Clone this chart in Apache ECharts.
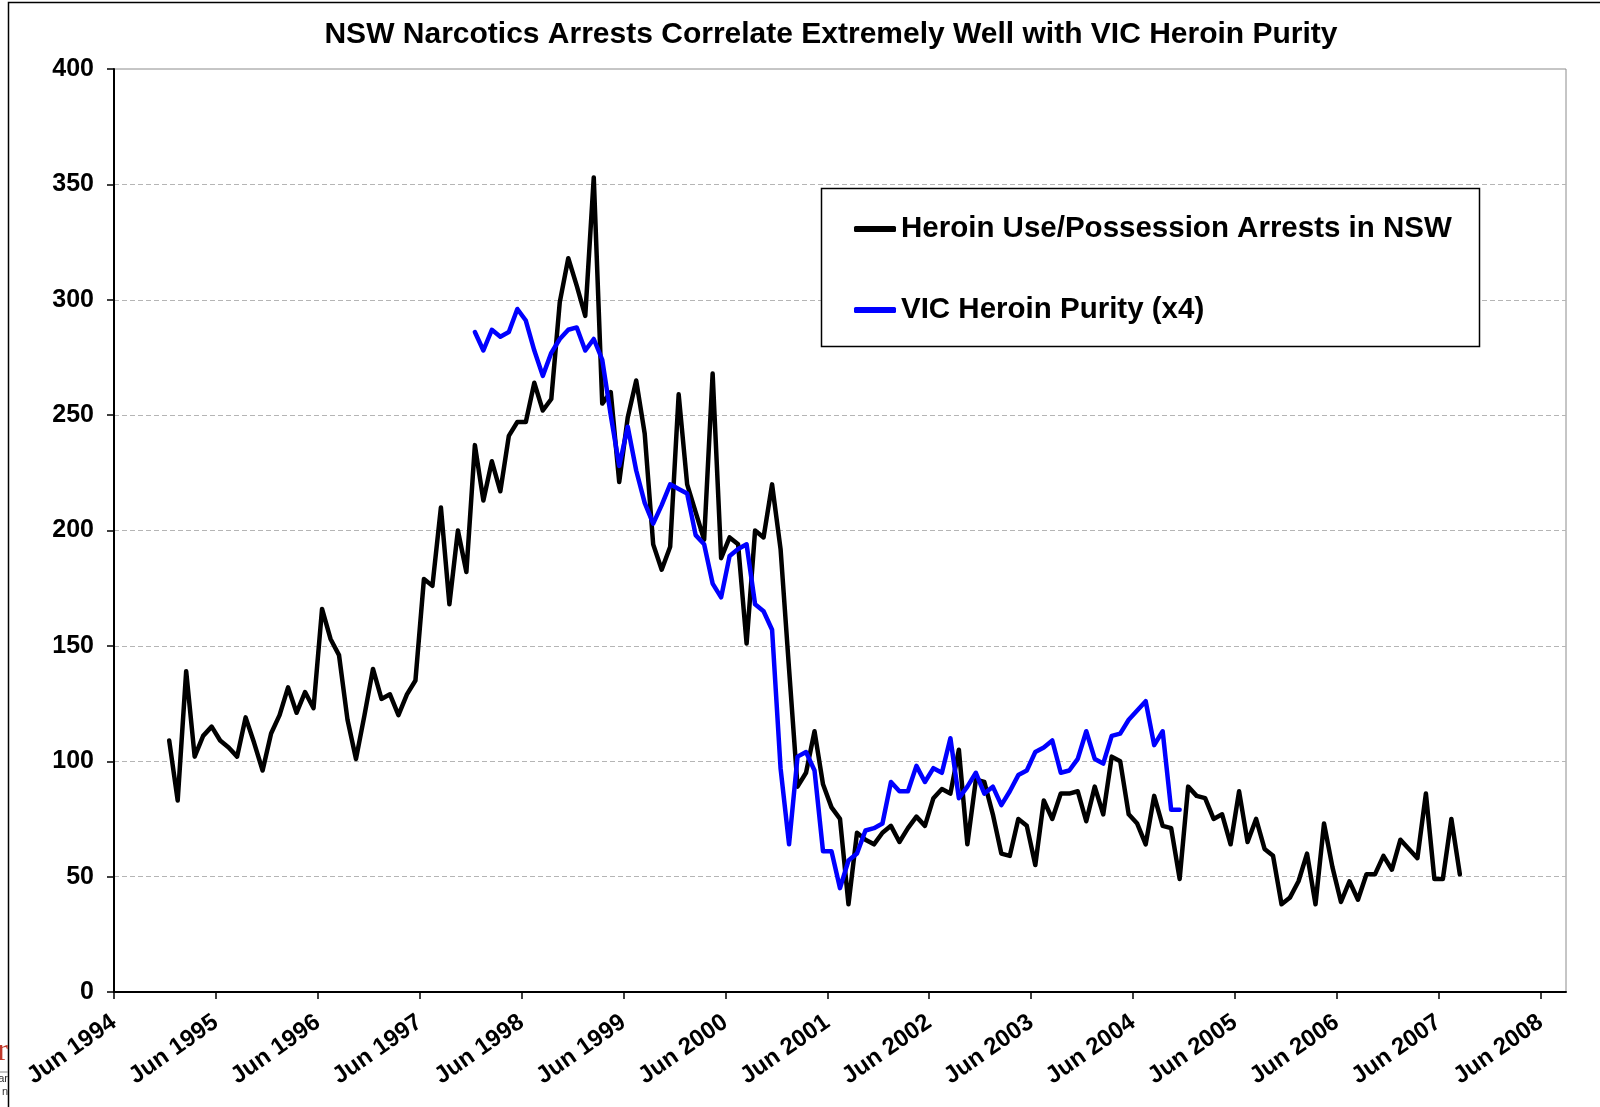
<!DOCTYPE html>
<html>
<head>
<meta charset="utf-8">
<script src="https://cdn.jsdelivr.net/npm/echarts@6/dist/echarts.min.js"></script>
<style>
  html, body { margin: 0; padding: 0; background: #ffffff; }
  #chart { width: 1600px; height: 1107px; }
</style>
</head>
<body>
<div id="chart"></div>
<script>
// ---------- DATA ----------
const titleText = 'NSW Narcotics Arrests Correlate Extremely Well with VIC Heroin Purity';
const seriesNames = ['Heroin Use/Possession Arrests in NSW', 'VIC Heroin Purity (x4)'];

// x tick labels (one per June, axis in months since Jun 1994)
const xTickLabels = ['Jun 1994','Jun 1995','Jun 1996','Jun 1997','Jun 1998','Jun 1999','Jun 2000',
  'Jun 2001','Jun 2002','Jun 2003','Jun 2004','Jun 2005','Jun 2006','Jun 2007','Jun 2008'];
const yTicks = [0, 50, 100, 150, 200, 250, 300, 350, 400];

// Monthly NSW arrests, first value is mid-Dec 1994 (6.5 months after Jun 1994)
const arrestsStartMonth = 6.5;
const arrests = [
  109, 83, 139, 102, 111, 115, 109, 106, 102, 119, 108, 96,
  112, 120, 132, 121, 130, 123, 166, 153, 146, 118, 101, 120,
  140, 127, 129, 120, 129, 135, 179, 176, 210, 168, 200, 182,
  237, 213, 230, 217, 241, 247, 247, 264, 252, 257, 299, 318,
  306, 293, 353, 255, 260, 221, 249, 265, 242, 194, 183, 193,
  259, 220, 208, 196, 268, 188, 197, 194, 151, 200, 197, 220,
  192, 140, 89, 95, 113, 90, 80, 75, 38, 69, 66, 64,
  69, 72, 65, 71, 76, 72, 84, 88, 86, 105, 64, 92,
  91, 77, 60, 59, 75, 72, 55, 83, 75, 86, 86, 87,
  74, 89, 77, 102, 100, 77, 73, 64, 85, 72, 71, 49,
  89, 85, 84, 75, 77, 64, 87, 65, 75, 62, 59, 38,
  41, 48, 60, 38, 73, 54, 39, 48, 40, 51, 51, 59,
  53, 66, 62, 58, 86, 49, 49, 75, 51
];

// Monthly VIC heroin purity x4, first value is mid-Dec 1997 (42.5 months after Jun 1994)
const purityStartMonth = 42.5;
const purity = [
  286, 278, 287, 284, 286, 296, 291, 278, 267, 277, 283, 287,
  288, 278, 283, 274, 250, 228, 245, 226, 212, 203, 211, 220,
  218, 216, 198, 194, 177, 171, 189, 192, 194, 168, 165, 157,
  97, 64, 102, 104, 96, 61, 61, 45, 57, 60, 70, 71,
  73, 91, 87, 87, 98, 91, 97, 95, 110, 84, 89, 95,
  86, 89, 81, 87, 94, 96, 104, 106, 109, 95, 96, 101,
  113, 101, 99, 111, 112, 118, 122, 126, 107, 113, 79, 79
];

// ---------- BUILD ----------
const xTickValues = xTickLabels.map((_, i) => i * 12);
const arrestsData = arrests.map((v, i) => [arrestsStartMonth + i, v]);
const purityData = purity.map((v, i) => [purityStartMonth + i, v]);
const labelByMonth = {};
xTickLabels.forEach((l, i) => { labelByMonth[i * 12] = l; });

const FONT = '"Liberation Sans", Arial, sans-serif';
const chart = echarts.init(document.getElementById('chart'), null, { renderer: 'canvas' });

const option = {
  backgroundColor: '#ffffff',
  animation: false,
  title: {
    text: titleText,
    left: 831,
    top: 20,
    padding: 0,
    textAlign: 'center',
    textStyle: { fontFamily: FONT, fontWeight: 'bold', fontSize: 30, color: '#000' }
  },
  legend: {
    orient: 'vertical',
    left: 854,
    top: 214,
    padding: 0,
    itemGap: 51,
    itemWidth: 42,
    itemHeight: 6,
    icon: 'roundRect',
    z: 20,
    textStyle: { fontFamily: FONT, fontWeight: 'bold', fontSize: 29.5, color: '#000', lineHeight: 30 },
    data: seriesNames
  },
  graphic: [
    { type: 'rect', z: 10, shape: { x: 821.5, y: 188.5, width: 658, height: 158 },
      style: { fill: '#fff', stroke: '#000', lineWidth: 1.5 } },
    { type: 'rect', z: 0, silent: true, shape: { x: 8.5, y: 2.5, width: 1700, height: 1300 },
      style: { fill: null, stroke: '#000', lineWidth: 1.5 } },
    { type: 'text', z: 10, style: { text: 'r', x: 8, y: 1052, textAlign: 'right', textVerticalAlign: 'middle',
      fill: '#c0392b', font: '32px "Liberation Serif", serif' } },
    { type: 'line', z: 10, shape: { x1: 0, y1: 1072, x2: 8, y2: 1072 }, style: { stroke: '#888', lineWidth: 1 } },
    { type: 'text', z: 10, style: { text: 'ar', x: 8, y: 1079, textAlign: 'right', textVerticalAlign: 'middle',
      fill: '#333', font: '11px "Liberation Sans", sans-serif' } },
    { type: 'text', z: 10, style: { text: 'n', x: 8, y: 1092, textAlign: 'right', textVerticalAlign: 'middle',
      fill: '#333', font: '11px "Liberation Sans", sans-serif' } }
  ],
  grid: {
    left: 114, right: 34, top: 69, bottom: 115,
    show: true, borderColor: '#8c8c8c', borderWidth: 1, backgroundColor: 'transparent'
  },
  xAxis: {
    type: 'value',
    min: 0,
    max: 171,
    axisLine: { show: true, lineStyle: { color: '#000', width: 2 } },
    axisTick: { show: true, length: 7, lineStyle: { color: '#000', width: 1.5 }, customValues: xTickValues },
    splitLine: { show: false },
    axisLabel: {
      customValues: xTickValues,
      rotate: 35,
      margin: 28,
      fontFamily: FONT, fontWeight: 'bold', fontSize: 24, color: '#000',
      formatter: v => labelByMonth[Math.round(v)] || ''
    }
  },
  yAxis: {
    type: 'value',
    min: 0,
    max: 400,
    interval: 50,
    axisLine: { show: true, lineStyle: { color: '#000', width: 2 } },
    axisTick: { show: true, length: 7, lineStyle: { color: '#000', width: 1.5 } },
    splitLine: { show: true, showMinLine: false, showMaxLine: false,
      lineStyle: { color: '#b5b5b5', type: [5, 3], width: 1 } },
    axisLabel: {
      margin: 20,
      fontFamily: FONT, fontWeight: 'bold', fontSize: 25, color: '#000',
      formatter: v => (yTicks.indexOf(v) >= 0 ? String(v) : '')
    }
  },
  series: [
    {
      name: seriesNames[0], type: 'line', data: arrestsData, showSymbol: false, symbol: 'none',
      lineStyle: { color: '#000000', width: 4.5, join: 'round', cap: 'round' },
      itemStyle: { color: '#000000' }, z: 3
    },
    {
      name: seriesNames[1], type: 'line', data: purityData, showSymbol: false, symbol: 'none',
      lineStyle: { color: '#0000ff', width: 4.5, join: 'round', cap: 'round' },
      itemStyle: { color: '#0000ff' }, z: 4
    }
  ]
};
chart.setOption(option);
</script>
</body>
</html>
